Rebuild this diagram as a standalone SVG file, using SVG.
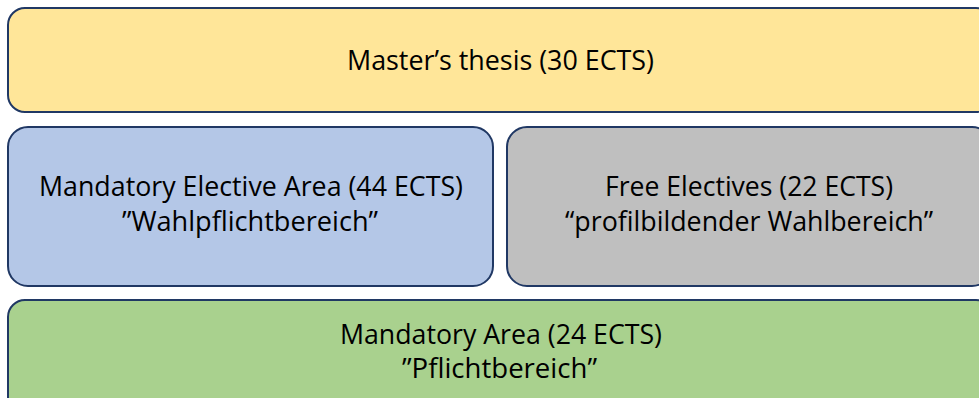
<svg xmlns="http://www.w3.org/2000/svg" width="979" height="398" viewBox="0 0 979 398">
<style>
.box{stroke:#203864;stroke-width:2}
.t{font-family:"Open Sans","Noto Sans","Liberation Sans",sans-serif;font-size:28px;fill:#000;text-anchor:middle}
</style>
<rect width="979" height="398" fill="#fff"/>
<g id="thesis">
<rect class="box" x="8" y="8" width="985" height="104" rx="17" fill="#FFE699"/>
<text class="t" x="500.5" y="70" textLength="307" lengthAdjust="spacingAndGlyphs">Master’s thesis (30 ECTS)</text>
</g>
<g id="mandatory-elective">
<rect class="box" x="8" y="127" width="485" height="159" rx="20" fill="#B4C7E7"/>
<text class="t" x="251" y="196" textLength="424" lengthAdjust="spacingAndGlyphs">Mandatory Elective Area (44 ECTS)</text>
<text class="t" x="250" y="231" textLength="256" lengthAdjust="spacingAndGlyphs">”Wahlpflichtbereich”</text>
</g>
<g id="free-electives">
<rect class="box" x="507" y="127" width="485" height="159" rx="20" fill="#BFBFBF"/>
<text class="t" x="749" y="196" textLength="288" lengthAdjust="spacingAndGlyphs">Free Electives (22 ECTS)</text>
<text class="t" x="749" y="231" textLength="368" lengthAdjust="spacingAndGlyphs">“profilbildender Wahlbereich”</text>
</g>
<g id="mandatory">
<rect class="box" x="8" y="300" width="985" height="120" rx="17" fill="#A9D18E"/>
<text class="t" x="501" y="344" textLength="322" lengthAdjust="spacingAndGlyphs">Mandatory Area (24 ECTS)</text>
<text class="t" x="499.5" y="377.5" textLength="195" lengthAdjust="spacingAndGlyphs">”Pflichtbereich”</text>
</g>
<g id="connectors"/>
</svg>
